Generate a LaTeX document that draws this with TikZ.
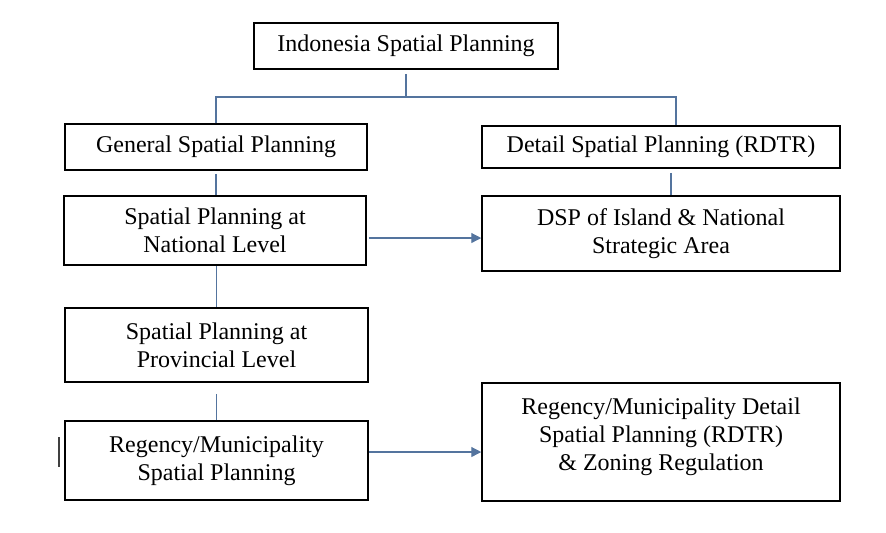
\documentclass[tikz,border=0pt]{standalone}
\usepackage{fontspec}
\setmainfont{Liberation Serif}
\usetikzlibrary{arrows.meta}
\definecolor{linkblue}{RGB}{84,116,158}

\begin{document}
\begin{tikzpicture}[x=0.5pt,y=-0.5pt,every node/.style={align=center,font=\fontsize{12}{14}\selectfont},
	box/.style={draw,line width=0.75pt,inner sep=0pt},
	link/.style={draw=linkblue,line width=0.6pt},
	arr/.style={link,-{Triangle[length=5pt,width=5pt]}}]
		\useasboundingbox (0,0) rectangle (886,532);
		\node[box,minimum width=152pt,minimum height=23pt] (isp) at (406,46) {Indonesia Spatial Planning};
		% left column
		\node[box,minimum width=151pt,minimum height=23pt] (general) at (216,147) {General Spatial Planning};
		\node[box,minimum width=151pt,minimum height=34.5pt] (national) at (215,230.5) {Spatial Planning at \\ National Level};
		\node[box,minimum width=151.5pt,minimum height=37pt] (provincial) at (216.5,345) {Spatial Planning at \\ Provincial Level};
		\node[box,minimum width=151.5pt,minimum height=39.5pt] (regency) at (216.5,460.5) {Regency/Municipality \\ Spatial Planning};
		% right column
		\node[box,minimum width=179pt,minimum height=21pt] (detail) at (661,147) {Detail Spatial Planning (RDTR)};
		\node[box,minimum width=179pt,minimum height=37.5pt] (dsp) at (661,233.5) {DSP of Island \& National \\ Strategic Area};
		\node[box,minimum width=179pt,minimum height=59pt] (zoning) at (661,442) {Regency/Municipality Detail \\ Spatial Planning (RDTR) \\ \& Zoning Regulation\\[-6pt]};
		% connectors
		\coordinate (split) at (406,97);
		\draw[link] ([yshift=-2pt]isp.south) -- (split);
		\draw[link] (general.north) |- (split) -| ([xshift=7.5pt]detail.north);
		\draw[link] ([yshift=-1.5pt]general.south) -- (general.south |- national.north);
		\draw[link] (provincial.north |- national.south) -- (provincial.north);
		\draw[link] ([yshift=-5.5pt]provincial.south) -- (regency.north);
		\draw[link] ([xshift=5pt,yshift=-2pt]detail.south) -- ([xshift=5pt]dsp.north);
		\coordinate (natR) at ([xshift=1pt,yshift=-3.75pt]national.east);
		\draw[arr] (natR) -- (natR -| dsp.west);
		\coordinate (regR) at ([yshift=4.25pt]regency.east);
		\draw[arr] (regR) -- (regR -| zoning.west);
		\draw[line width=0.8pt,black!75] (59,437) -- (59,467); % stray mark
	\end{tikzpicture}
\end{document}
